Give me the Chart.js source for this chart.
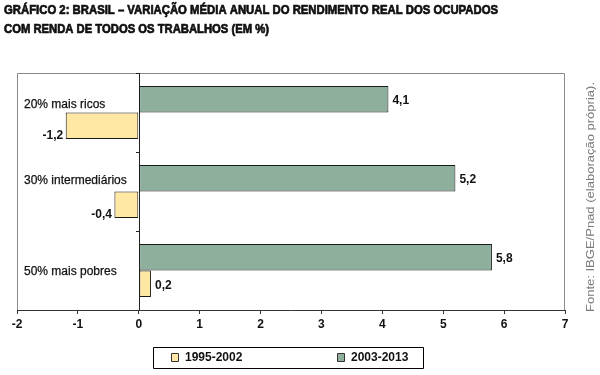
<!DOCTYPE html>
<html>
<head>
<meta charset="utf-8">
<script src="https://cdn.jsdelivr.net/npm/chart.js@4/dist/chart.umd.min.js"></script>
<style>
html,body{margin:0;padding:0;background:#fff;}
#wrap{width:600px;height:375px;position:relative;}
</style>
</head>
<body>
<div id="wrap"><canvas id="c" width="600" height="375"></canvas></div>
<script>
const categories = ['20% mais ricos', '30% intermediários', '50% mais pobres'];
const series1995 = [-1.2, -0.4, 0.2];
const series2003 = [4.1, 5.2, 5.8];
const seriesNames = ['1995-2002', '2003-2013'];
const xMin = -2, xMax = 7, xStep = 1;
const titleLines = [
  'GRÁFICO 2: BRASIL – VARIAÇÃO MÉDIA ANUAL DO RENDIMENTO REAL DOS OCUPADOS',
  'COM RENDA DE TODOS OS TRABALHOS (EM %)'
];
const sourceText = 'Fonte: IBGE/Pnad (elaboração própria).';

const YELLOW = '#FFE8A3';
const GREEN = '#8DAF9C';
const FONT = '"Liberation Sans", Arial, sans-serif';

function fmt(v){ return String(v).replace('.', ','); }

const decor = {
  id: 'decor',
  beforeDatasetsDraw(chart){
    const ctx = chart.ctx, a = chart.chartArea;
    const xs = chart.scales.x, ys = chart.scales.y;
    ctx.save();
    ctx.strokeStyle = '#8a8a8a';
    ctx.lineWidth = 1;
    ctx.beginPath();
    ctx.moveTo(Math.round(a.left)+0.5, a.bottom);
    ctx.lineTo(Math.round(a.left)+0.5, Math.round(a.top)+0.5);
    ctx.lineTo(Math.round(a.right)-0.5, Math.round(a.top)+0.5);
    ctx.lineTo(Math.round(a.right)-0.5, a.bottom);
    ctx.stroke();
    const x0 = Math.round(xs.getPixelForValue(0)) + 0.5;
    ctx.strokeStyle = '#222';
    ctx.beginPath();
    ctx.moveTo(x0, a.top);
    ctx.lineTo(x0, a.bottom);
    ctx.stroke();
    const n = categories.length;
    const step = (ys.getPixelForValue(1) - ys.getPixelForValue(0));
    for (let i = 0; i < n; i++) {
      const yb = Math.round(ys.getPixelForValue(i) - step/2) + 0.5;
      ctx.beginPath();
      ctx.moveTo(x0 - 3.5, yb);
      ctx.lineTo(x0, yb);
      ctx.stroke();
    }
    ctx.restore();
  },
  afterDraw(chart){
    const ctx = chart.ctx, a = chart.chartArea;
    const ys = chart.scales.y;
    ctx.save();
    // title
    ctx.fillStyle = '#111';
    ctx.strokeStyle = '#111';
    ctx.lineWidth = 0.7;
    ctx.lineJoin = 'round';
    ctx.textBaseline = 'middle';
    ctx.textAlign = 'left';
    ctx.font = 'bold 12.5px "Liberation Sans Narrow", "Liberation Sans", Arial, sans-serif';
    const targets = [494, 265];
    const ty = [11, 30];
    titleLines.forEach((t, i) => {
      const w = ctx.measureText(t).width;
      ctx.save();
      ctx.translate(4, ty[i]);
      ctx.scale(targets[i] / w, 1);
      ctx.fillText(t, 0, 0);
      ctx.strokeText(t, 0, 0);
      ctx.restore();
    });
    // category labels
    ctx.font = '12px ' + FONT;
    ctx.fillStyle = '#111';
    ctx.strokeStyle = '#111';
    ctx.lineWidth = 0.25;
    const offs = [-7.5, -10.5, 1.5];
    categories.forEach((c, i) => {
      ctx.fillText(c, 24, ys.getPixelForValue(i) + offs[i]);
      ctx.strokeText(c, 24, ys.getPixelForValue(i) + offs[i]);
    });
    // value labels
    ctx.font = 'bold 12px ' + FONT;
    chart.data.datasets.forEach((ds, di) => {
      const meta = chart.getDatasetMeta(di);
      meta.data.forEach((bar, i) => {
        const v = ds.data[i];
        if (v >= 0) {
          ctx.textAlign = 'left';
          ctx.fillText(fmt(v), bar.x + 4, bar.y + (di === 1 ? 2 : 1));
        } else {
          ctx.textAlign = 'right';
          ctx.fillText(fmt(v), bar.x - 2.5, bar.y + 10);
        }
      });
    });
    // legend
    const lx = 153, ly = 347, lw = 270, lh = 21;
    ctx.strokeStyle = '#000';
    ctx.lineWidth = 1;
    ctx.strokeRect(lx + 0.5, ly + 0.5, lw, lh);
    const items = [
      {name: seriesNames[0], color: YELLOW, x: 171},
      {name: seriesNames[1], color: GREEN, x: 337}
    ];
    ctx.textAlign = 'left';
    ctx.font = 'bold 12px ' + FONT;
    items.forEach(it => {
      ctx.fillStyle = it.color;
      ctx.fillRect(it.x + 0.5, 353.5, 7, 8);
      ctx.strokeStyle = '#333';
      ctx.strokeRect(it.x + 0.5, 353.5, 7, 8);
      ctx.fillStyle = '#111';
      ctx.fillText(it.name, it.x + 14, 358);
    });
    // source text
    ctx.save();
    ctx.translate(591, 312);
    ctx.rotate(-Math.PI / 2);
    ctx.font = '11.5px ' + FONT;
    ctx.fillStyle = '#7a7a7a';
    ctx.textAlign = 'left';
    ctx.textBaseline = 'middle';
    const sw = ctx.measureText(sourceText).width;
    ctx.scale(230 / sw, 1);
    ctx.fillText(sourceText, 0, 0);
    ctx.restore();
    ctx.restore();
  }
};

new Chart(document.getElementById('c'), {
  type: 'bar',
  data: {
    labels: categories,
    datasets: [
      { label: seriesNames[1], data: series2003, backgroundColor: GREEN, borderColor: '#1a1a1a', borderWidth: 1, borderSkipped: false },
      { label: seriesNames[0], data: series1995, backgroundColor: YELLOW, borderColor: '#1a1a1a', borderWidth: 1, borderSkipped: false }
    ]
  },
  options: {
    indexAxis: 'y',
    responsive: false,
    animation: false,
    devicePixelRatio: 1,
    layout: { padding: { left: 17, right: 35, top: 73, bottom: 43 } },
    datasets: { bar: { categoryPercentage: 0.67, barPercentage: 1 } },
    plugins: { legend: { display: false }, title: { display: false }, tooltip: { enabled: false } },
    scales: {
      x: {
        type: 'linear',
        min: xMin, max: xMax,
        afterFit(s){ s.height = 22; },
        ticks: { stepSize: xStep, color: '#111', font: { family: FONT, size: 12, weight: 'bold' }, padding: 3 },
        grid: { display: true, drawOnChartArea: false, drawTicks: true, tickLength: 4, color: '#333' },
        border: { display: true, color: '#333', width: 1 }
      },
      y: {
        type: 'category',
        display: false,
        offset: true,
        grid: { display: false }
      }
    }
  },
  plugins: [decor]
});
</script>
</body>
</html>
